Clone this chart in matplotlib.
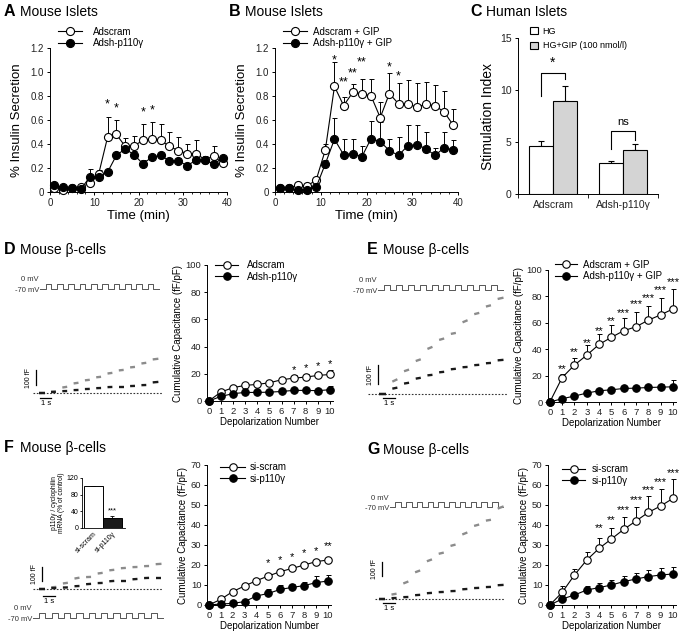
import matplotlib
matplotlib.use('Agg')
import matplotlib.pyplot as plt
import numpy as np

plt.rcParams['font.family'] = ['Liberation Sans', 'DejaVu Sans']
plt.rcParams['axes.linewidth'] = 0.7
for a in ('xtick', 'ytick'):
    plt.rcParams[a + '.major.width'] = 0.7
    plt.rcParams[a + '.minor.width'] = 0.6
    plt.rcParams[a + '.major.size'] = 2.5
    plt.rcParams[a + '.minor.size'] = 1.6
    plt.rcParams[a + '.major.pad'] = 2

# ---------------- data ----------------
time_min = [1, 3, 5, 7, 9, 11, 13, 15, 17, 19, 21, 23, 25, 27, 29, 31, 33, 35, 37, 39]

a_scram = [0.03, 0.02, 0.03, 0.04, 0.075, 0.15, 0.455, 0.48, 0.38, 0.385, 0.43, 0.44, 0.43, 0.38, 0.345, 0.32, 0.32, 0.27, 0.30, 0.24]
a_scram_err = [0.01, 0.01, 0.01, 0.01, 0.02, 0.03, 0.17, 0.12, 0.07, 0.08, 0.14, 0.14, 0.135, 0.12, 0.115, 0.08, 0.11, 0.03, 0.085, 0.02]
a_sh = [0.055, 0.04, 0.03, 0.025, 0.125, 0.125, 0.165, 0.305, 0.36, 0.31, 0.235, 0.29, 0.305, 0.26, 0.26, 0.22, 0.265, 0.265, 0.235, 0.28]
a_sh_err = [0.01, 0.01, 0.01, 0.01, 0.065, 0.02, 0.02, 0.02, 0.04, 0.03, 0.03, 0.02, 0.02, 0.02, 0.02, 0.02, 0.02, 0.02, 0.02, 0.02]
a_star_x = [13, 15, 21, 23]
a_star_y = [0.73, 0.70, 0.66, 0.68]
a_star_txt = ['*', '*', '*', '*']

b_scram = [0.033, 0.035, 0.055, 0.05, 0.10, 0.35, 0.88, 0.72, 0.83, 0.82, 0.80, 0.62, 0.82, 0.735, 0.73, 0.71, 0.73, 0.72, 0.665, 0.555]
b_scram_err = [0.01, 0.01, 0.01, 0.01, 0.02, 0.05, 0.20, 0.07, 0.07, 0.125, 0.145, 0.13, 0.17, 0.175, 0.2, 0.2, 0.185, 0.17, 0.175, 0.14]
b_sh = [0.033, 0.033, 0.015, 0.02, 0.04, 0.235, 0.44, 0.31, 0.32, 0.295, 0.445, 0.42, 0.345, 0.305, 0.385, 0.395, 0.36, 0.305, 0.37, 0.35]
b_sh_err = [0.01, 0.01, 0.01, 0.01, 0.01, 0.03, 0.18, 0.13, 0.12, 0.09, 0.15, 0.165, 0.10, 0.15, 0.17, 0.16, 0.14, 0.06, 0.13, 0.08]
b_star_x = [13, 15, 17, 19, 25, 27]
b_star_y = [1.10, 0.91, 0.99, 1.08, 1.04, 0.96]
b_star_txt = ['*', '**', '**', '**', '*', '*']

c_groups = ['Adscram', 'Adsh-p110γ']
c_hg = [4.65, 2.98]
c_hg_err = [0.4, 0.2]
c_gip = [8.97, 4.2]
c_gip_err = [1.45, 0.6]
c_sig_txt = ['*', 'ns']
c_sig_y = [11.6, 6.1]
c_sig_left = [9.4, 4.3]
c_sig_right = [11.05, 5.2]

depol = [0, 1, 2, 3, 4, 5, 6, 7, 8, 9, 10]

d_scram = [0, 6.6, 9.8, 11.5, 12.2, 13.4, 15.6, 16.8, 17.6, 18.8, 19.5]
d_scram_err = [0, 1, 1, 1, 1, 1, 1.5, 2, 2, 2, 3]
d_sh = [0, 3.4, 5.4, 6.3, 6.3, 6.5, 7.0, 7.8, 7.8, 7.6, 8.3]
d_sh_err = [0, 0.8, 0.8, 1, 1, 1, 1, 1, 1.2, 1.5, 3]
d_star_x = [7, 8, 9, 10]
d_star_y = [23, 24.4, 25.8, 27.5]
d_star_txt = ['*', '*', '*', '*']

e_scram = [0, 18.5, 28, 35.5, 43.6, 49, 54, 57, 62, 66, 70.5]
e_scram_err = [0, 3, 5, 7.5, 8, 9, 10, 11.5, 11, 12.5, 15]
e_sh = [0, 2.5, 4.5, 6.75, 8.5, 9.25, 10.25, 10.5, 11, 11.25, 11.5]
e_sh_err = [0, 0.5, 0.8, 1, 1, 1, 1.5, 1.5, 2, 2.5, 5]
e_star_x = [1, 2, 3, 4, 5, 6, 7, 8, 9, 10]
e_star_y = [25, 37.5, 45, 54, 61.5, 67.5, 74, 79, 84.6, 91]
e_star_txt = ['**', '**', '**', '**', '**', '***', '***', '***', '***', '***']

f_scram = [0, 2.8, 6.7, 9.5, 12.2, 14.5, 16.7, 18.3, 20, 21.7, 22.5]
f_scram_err = [0, 0.5, 0.8, 0.8, 1, 1, 1, 1, 1, 1, 1.2]
f_sh = [0, 0.5, 0.8, 1.7, 4.5, 5.8, 7.8, 8.8, 9.7, 11.2, 12]
f_sh_err = [0, 0.5, 0.5, 0.8, 1, 2, 2, 1.5, 2, 3.5, 3]
f_star_x = [5, 6, 7, 8, 9, 10]
f_star_y = [21, 22.6, 24, 26.1, 27.1, 29.3]
f_star_txt = ['*', '*', '*', '*', '*', '**']

g_scram = [0, 6.3, 15, 22.5, 28.3, 33, 37.8, 42, 46.3, 49.5, 53.3]
g_scram_err = [0, 3, 3, 4, 5, 5.5, 6, 7, 8, 8.5, 9.5]
g_sh = [0, 3, 5, 7.5, 8.7, 10, 11.7, 13, 14.2, 15, 15.5]
g_sh_err = [0, 0.5, 0.8, 2, 2.5, 2.5, 3, 3, 3.5, 3.5, 3.5]
g_star_x = [4, 5, 6, 7, 8, 9, 10]
g_star_y = [38.3, 42.3, 47.3, 52.6, 57.6, 61.3, 66]
g_star_txt = ['**', '**', '***', '***', '***', '***', '***']

# example capacitance traces (fF) : level before the train, then after each pulse
d_trace_scram = [0, 10, 40, 67, 87, 107, 133, 153, 173, 200, 227]
d_trace_sh = [0, 7, 13, 20, 27, 33, 40, 40, 47, 53, 73]
e_trace_scram = [0, 74, 126, 180, 245, 290, 320, 385, 425, 465, 505]
e_trace_sh = [0, 32, 58, 84, 100, 116, 132, 142, 153, 163, 179]
f_trace_scram = [0, 14, 43, 79, 86, 114, 136, 150, 157, 164, 179]
f_trace_sh = [0, 7, 11, 21, 36, 43, 57, 57, 71, 79, 79]
g_trace_scram = [0, 36, 121, 200, 279, 329, 386, 471, 529, 564, 657]
g_trace_sh = [0, 7, 14, 29, 43, 50, 57, 71, 79, 86, 100]

# depolarisation protocol
n_pulses = 10
pulse_period_s = 1.0
pulse_dur_s = 0.5
v_hold = -70
v_step = 0

# F inset
mrna_labels = ['si-scram', 'si-p110γ']
mrna = [100, 24]
mrna_err = [2, 6]

# ---------------- figure ----------------
W, H = 683, 632
fig = plt.figure(figsize=(W / 100, H / 100), dpi=100)
TXT = '#222222'


def add_ax(x0, y0, x1, y1):
    return fig.add_axes([x0 / W, 1 - y1 / H, (x1 - x0) / W, (y1 - y0) / H])


def ftext(x, y, s, **kw):
    fig.text(x / W, 1 - y / H, s, **kw)


def panel_title(x, y, letter, title):
    ftext(x, y, letter, fontsize=11.5, fontweight='bold', va='center', ha='left')
    ftext(x + 16, y, title, fontsize=10, va='center', ha='left')


def style(ax):
    for s in ('top', 'right'):
        ax.spines[s].set_visible(False)
    ax.tick_params(direction='out', colors='k', labelcolor=TXT)


def series(ax, x, y, err, filled, ms=5.8):
    x = np.asarray(x, float)
    y = np.asarray(y, float)
    err = np.asarray(err, float)
    ax.errorbar(x, y, yerr=[np.zeros_like(err), err], fmt='none', ecolor='k',
                elinewidth=0.7, capsize=1.8, capthick=0.7, zorder=2, clip_on=False)
    ln, = ax.plot(x, y, '-o', color='k', lw=0.8, ms=ms, mew=0.8,
                  mfc='k' if filled else 'white', mec='k',
                  zorder=4 if filled else 3, clip_on=False)
    return ln


def stars(ax, xs, ys, txts, fs=9):
    for x, y, t in zip(xs, ys, txts):
        ax.text(x, y, t, ha='center', va='center', fontsize=fs)


def legend_at(ax, handles, labels, x_px, ymid_px, fs, hl, hp, ls, **kw):
    ax.legend(handles, labels, loc='center left',
              bbox_to_anchor=(x_px / W, 1 - ymid_px / H), bbox_transform=fig.transFigure,
              frameon=False, borderpad=0, borderaxespad=0, handlelength=hl,
              handletextpad=hp, labelspacing=ls, fontsize=fs, numpoints=1, **kw)


# ---------- A ----------
panel_title(4, 12, 'A', 'Mouse Islets')
axA = add_ax(50, 48, 227, 192)
style(axA)
lA1 = series(axA, time_min, a_scram, a_scram_err, False)
lA2 = series(axA, time_min, a_sh, a_sh_err, True)
stars(axA, a_star_x, a_star_y, a_star_txt)
axA.set_xlim(0, 40)
axA.set_ylim(0, 1.2)
axA.set_xticks([0, 10, 20, 30, 40])
axA.set_xticks(np.arange(0, 41, 2), minor=True)
axA.set_yticks([0, 0.2, 0.4, 0.6, 0.8, 1.0, 1.2])
axA.set_yticklabels(['0', '0.2', '0.4', '0.6', '0.8', '1.0', '1.2'])
axA.tick_params(labelsize=7)
axA.set_xlabel('Time (min)', fontsize=9.5, labelpad=1)
axA.set_ylabel('% Insulin Secretion', fontsize=9.5, labelpad=5)
legend_at(axA, [lA1, lA2], ['Adscram', 'Adsh-p110γ'], 58, 37.5, 7, 2.45, 1.1, 0.15)

# ---------- B ----------
panel_title(229, 12, 'B', 'Mouse Islets')
axB = add_ax(275, 48, 458, 192)
style(axB)
lB1 = series(axB, time_min, b_scram, b_scram_err, False)
lB2 = series(axB, time_min, b_sh, b_sh_err, True)
stars(axB, b_star_x, b_star_y, b_star_txt)
axB.set_xlim(0, 40)
axB.set_ylim(0, 1.2)
axB.set_xticks([0, 10, 20, 30, 40])
axB.set_xticks(np.arange(0, 41, 2), minor=True)
axB.set_yticks([0, 0.2, 0.4, 0.6, 0.8, 1.0, 1.2])
axB.set_yticklabels(['0', '0.2', '0.4', '0.6', '0.8', '1.0', '1.2'])
axB.tick_params(labelsize=7)
axB.set_xlabel('Time (min)', fontsize=9.5, labelpad=1)
axB.set_ylabel('% Insulin Secretion', fontsize=9.5, labelpad=5)
legend_at(axB, [lB1, lB2], ['Adscram + GIP', 'Adsh-p110γ + GIP'], 283, 37.5, 7, 2.45, 0.6, 0.15)

# ---------- C ----------
panel_title(470, 12, 'C', 'Human Islets')
axC = add_ax(518, 38, 658, 194)
style(axC)
xg = np.arange(len(c_groups))
bw = 0.34
bh = axC.bar(xg - bw / 2, c_hg, bw, color='white', edgecolor='k', lw=0.8, zorder=3,
             yerr=[np.zeros(2), c_hg_err], capsize=2,
             error_kw=dict(elinewidth=0.8, capthick=0.8, zorder=2))
bg = axC.bar(xg + bw / 2, c_gip, bw, color='#d4d4d4', edgecolor='k', lw=0.8, zorder=3,
             yerr=[np.zeros(2), c_gip_err], capsize=2,
             error_kw=dict(elinewidth=0.8, capthick=0.8, zorder=2))
for i in range(len(c_groups)):
    xl, xr = xg[i] - bw / 2, xg[i] + bw / 2
    axC.plot([xl, xl, xr, xr], [c_sig_left[i], c_sig_y[i], c_sig_y[i], c_sig_right[i]],
             color='k', lw=0.8)
    axC.text(xg[i], c_sig_y[i] + 0.3, c_sig_txt[i], ha='center', va='bottom',
             fontsize=10 if c_sig_txt[i] == '*' else 8)
axC.set_xlim(-0.5, 1.5)
axC.set_ylim(0, 15)
axC.set_yticks([0, 5, 10, 15])
axC.set_xticks(xg)
axC.set_xticklabels(c_groups, fontsize=7.5)
axC.set_xticks([-0.5, 0.5, 1.5], minor=True)
axC.tick_params(axis='x', which='major', length=0, pad=4)
axC.tick_params(axis='x', which='minor', length=3)
axC.tick_params(axis='y', labelsize=7.5)
axC.set_ylabel('Stimulation Index', fontsize=10, labelpad=4)
legend_at(axC, [bh, bg], ['HG', 'HG+GIP (100 nmol/l)'], 530, 38.5, 6.5, 0.85, 0.55, 0.65,
          handleheight=0.85)


# ---------- capacitance panels ----------
def cap_axes(x0, x1, y0, y1, ymax, yticks, ys, yerr_s, yh, yerr_h, sx, sy, st, labels,
             leg_x, leg_y, hl, hp):
    ax = add_ax(x0, y0, x1, y1)
    style(ax)
    l1 = series(ax, depol, ys, yerr_s, False, ms=5.4)
    l2 = series(ax, depol, yh, yerr_h, True, ms=5.4)
    stars(ax, sx, sy, st, fs=8)
    ax.set_xlim(-0.15, 10.25)
    ax.set_ylim(0, ymax)
    ax.set_xticks(depol)
    ax.set_yticks(yticks)
    ax.tick_params(labelsize=6.8, length=2)
    ax.set_xlabel('Depolarization Number', fontsize=7, labelpad=1)
    ax.set_ylabel('Cumulative Capacitance (fF/pF)', fontsize=7, labelpad=2)
    legend_at(ax, [l1, l2], labels, leg_x, leg_y, 7, hl, hp, 0.15)
    return ax


cap_axes(207, 333, 265, 401, 100, [0, 20, 40, 60, 80, 100], d_scram, d_scram_err, d_sh, d_sh_err,
         d_star_x, d_star_y, d_star_txt, ['Adscram', 'Adsh-p110γ'], 215, 271, 2.4, 0.9)
cap_axes(548, 676, 270, 402, 100, [0, 20, 40, 60, 80, 100], e_scram, e_scram_err, e_sh, e_sh_err,
         e_star_x, e_star_y, e_star_txt, ['Adscram + GIP', 'Adsh-p110γ + GIP'], 555, 270.5, 2.3, 0.6)
cap_axes(207, 331, 465, 605, 70, [0, 10, 20, 30, 40, 50, 60, 70], f_scram, f_scram_err, f_sh, f_sh_err,
         f_star_x, f_star_y, f_star_txt, ['si-scram', 'si-p110γ'], 220, 473, 2.6, 0.5)
cap_axes(548, 676, 465, 605, 70, [0, 10, 20, 30, 40, 50, 60, 70], g_scram, g_scram_err, g_sh, g_sh_err,
         g_star_x, g_star_y, g_star_txt, ['si-scram', 'si-p110γ'], 562, 475, 2.4, 0.7)


def protocol(x_start, x_end, y_low, y_high):
    ax = add_ax(x_start, y_high, x_end, y_low)
    ax.axis('off')
    t_end = (n_pulses - 1) * pulse_period_s + pulse_dur_s + 0.5
    ts, vs = [-0.5], [v_hold]
    for k in range(n_pulses):
        on = k * pulse_period_s
        off = on + pulse_dur_s
        ts += [on, on, off, off]
        vs += [v_hold, v_step, v_step, v_hold]
    ts.append(t_end)
    vs.append(v_hold)
    ax.plot(ts, vs, color='#555555', lw=0.7, clip_on=False)
    ax.set_xlim(-0.5, t_end)
    ax.set_ylim(v_hold, v_step)
    ftext(x_start - 1, y_high - 4, '0 mV', fontsize=5.5, ha='right', va='center', color='#333333')
    ftext(x_start - 1, y_low + 1.5, '-70 mV', fontsize=5.5, ha='right', va='center', color='#333333')


def trace(t0_px, pps, base_px, ppf, lv_gray, lv_black, dot_x, vbar, hbar):
    # axes in seconds / fF
    xa, xb = t0_px - 2.0 * pps, t0_px + 11.0 * pps
    ya, yb = base_px - 110, base_px + 20
    ax = add_ax(xa, ya, xb, yb)
    ax.axis('off')
    ax.set_xlim(-2.0, 11.0)
    ax.set_ylim(-20 / ppf, 110 / ppf)

    def tx(px):
        return (px - t0_px) / pps

    def fy(px):
        return (base_px - px) / ppf

    ax.plot([tx(dot_x[0]), tx(dot_x[1])], [0, 0], color='#333333', lw=0.8,
            ls=(0, (1.5, 1.5)), clip_on=False)
    for levels, col in ((lv_gray, '#8c8c8c'), (lv_black, '#1a1a1a')):
        for i, lv in enumerate(levels):
            if i == 0:
                t_a, t_b = -0.55, -0.02
            else:
                t_a = (i - 1) * pulse_period_s + pulse_dur_s + 0.05
                t_b = i * pulse_period_s - 0.02 if i < len(levels) - 1 else t_a + 0.5
            step = lv - (levels[i - 1] if i > 0 else lv)
            ax.plot([t_a, t_b], [lv - 0.12 * step, lv + 0.05 * step], color=col, lw=1.7,
                    solid_capstyle='butt', clip_on=False)
    # scale bars (100 fF and 1 s)
    vx, vy0 = tx(vbar[0]), fy(vbar[1])
    ax.plot([vx, vx], [vy0, vy0 + 100], color='k', lw=0.9, clip_on=False)
    ax.text(vx - 0.35, vy0 + 50, '100 fF', rotation=90, ha='right', va='center', fontsize=5)
    hx0, hy = tx(hbar[0]), fy(hbar[1])
    ax.plot([hx0, hx0 + 1.0], [hy, hy], color='k', lw=0.9, clip_on=False)
    ax.text(hx0 + 0.5, hy - 2.0 / ppf, '1 s', ha='center', va='top', fontsize=5.5)


# D
panel_title(4, 250, 'D', 'Mouse β-cells')
protocol(40, 159, 289, 284)
trace(44.8, 11.3, 393, 0.15, d_trace_scram, d_trace_sh, (33, 162), (36, 385), (40, 398))
# E
panel_title(367, 250, 'E', 'Mouse β-cells')
protocol(378, 503, 290, 285)
trace(385.9, 11.7, 394, 0.19, e_trace_scram, e_trace_sh, (368, 507), (378, 384), (383, 398))
# F
panel_title(4, 448, 'F', 'Mouse β-cells')
protocol(33, 163, 618, 613)
trace(44.9, 11.6, 589, 0.14, f_trace_scram, f_trace_sh, (33, 162), (42, 581), (43, 596))
# G
panel_title(367, 450, 'G', 'Mouse β-cells')
protocol(390, 503, 507, 502)
trace(385, 11.8, 599, 0.14, g_trace_scram, g_trace_sh, (375, 505), (382, 576), (383, 603))

# F inset
axI = add_ax(82, 478, 125, 528)
for s in ('top', 'right'):
    axI.spines[s].set_visible(False)
axI.spines['left'].set_linewidth(0.6)
axI.spines['bottom'].set_linewidth(0.6)
xi = np.arange(len(mrna))
axI.bar(xi, mrna, 1.0, color=['white', '#1a1a1a'], edgecolor='k', lw=0.7,
        yerr=[np.zeros(2), mrna_err], capsize=1.2,
        error_kw=dict(elinewidth=0.6, capthick=0.6))
axI.text(1, mrna[1] + mrna_err[1] + 3, '***', ha='center', va='bottom', fontsize=5.5)
axI.set_xlim(-0.58, 1.68)
axI.set_ylim(0, 120)
axI.set_yticks([0, 40, 80, 120])
axI.tick_params(axis='y', labelsize=5, length=1.5, width=0.6, pad=1)
axI.set_xticks(xi)
axI.set_xticklabels(mrna_labels, rotation=45, ha='right', rotation_mode='anchor', fontsize=5)
axI.tick_params(axis='x', length=0, pad=1.5)
axI.set_ylabel('p110γ / cyclophilin\nmRNA (% of control)', fontsize=4.8, labelpad=1.5,
               linespacing=1.0)

fig.savefig('out.png', dpi=100)
